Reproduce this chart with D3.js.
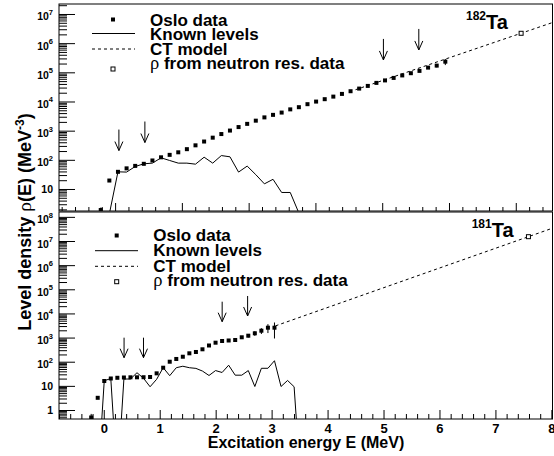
<!DOCTYPE html>
<html>
<head>
<meta charset="utf-8">
<script src="https://cdn.jsdelivr.net/npm/d3@7"></script>
<style>
  body { margin: 0; background: #fff; }
  svg { display: block; font-family: "Liberation Sans", Arial, sans-serif; }
</style>
</head>
<body>
<div id="container"></div>
<script>
/* DATA */
// 182Ta, top panel
const ta182Energy = [-0.215, -0.086, 0.043, 0.172, 0.301, 0.430, 0.559, 0.688, 0.817, 0.946,
  1.075, 1.204, 1.333, 1.462, 1.591, 1.720, 1.849, 1.978, 2.107, 2.236,
  2.365, 2.494, 2.623, 2.752, 2.881, 3.010, 3.139, 3.268, 3.397, 3.526,
  3.655, 3.784, 3.913, 4.042, 4.171, 4.300, 4.429, 4.558, 4.687, 4.816, 4.945];
const ta182Rho = [1.9, 19.5, 38.8, 51, 62, 73, 95, 122, 148, 181,
  232, 314, 424, 575, 765, 1007, 1328, 1710, 2200, 2850,
  3480, 4170, 5370, 6380, 8090, 9930, 12000, 14700, 18200, 22500,
  27700, 34200, 43400, 52800, 64300, 78300, 93300, 112000, 145000, 170000, 232000];
const ta182Err = [0.4, 0, 0, 0, 0, 0, 0, 0, 0, 0,
  0, 0, 0, 0, 0, 0, 0, 0, 0, 0,
  0, 0, 0, 0, 0, 0, 0, 0, 0, 0,
  0, 0, 0, 0, 0, 0, 0, 0, 12000, 22000, 55000];
const ta182KnownEnergy = [-0.086, 0.043, 0.172, 0.301, 0.430, 0.559, 0.688, 0.817, 0.946,
  1.075, 1.204, 1.333, 1.462, 1.591, 1.720, 1.849, 1.978, 2.107, 2.236,
  2.365, 2.494, 2.623, 2.752];
const ta182Known = [1.4, 38.8, 38, 59, 73, 77, 117, 95, 77,
  77, 71, 123, 77, 140, 127, 38, 61, 31, 15,
  21.5, 7.6, 7.6, 1.5];
const ta182CtEnergy = [3.6, 6.55];
const ta182CtRho = [25300, 5.09e6];
const ta182NeutronEnergy = [6.08];
const ta182NeutronRho = [2.18e6];
const ta182ArrowEnergy = [0.057, 0.446, 4.018, 4.548];
const ta182ArrowRho = [208, 392, 2.66e5, 5.85e5];

// 181Ta, bottom panel
const ta181Energy = [-0.225, -0.108, 0.009, 0.126, 0.243, 0.360, 0.477, 0.594, 0.711, 0.828,
  0.945, 1.062, 1.179, 1.296, 1.413, 1.530, 1.647, 1.764, 1.881, 1.998,
  2.115, 2.232, 2.349, 2.466, 2.583, 2.700, 2.817, 2.934, 3.051];
const ta181Rho = [0.49, 3.2, 15.9, 20.2, 21.6, 22.2, 22.6, 22.6, 22.8, 23.3,
  33, 56.5, 100, 130, 161, 223, 253, 327, 470, 614,
  722, 757, 794, 1028, 1197, 1504, 1927, 2566, 2566];
const ta181Err = [0.2, 0, 0, 0, 0, 0, 0, 0, 0, 0,
  0, 0, 0, 0, 0, 0, 0, 0, 0, 0,
  0, 0, 0, 100, 190, 330, 520, 1030, 1650];
const ta181KnownEnergy = [-0.108, 0.009, 0.126, 0.243, 0.360, 0.477, 0.594, 0.711, 0.828,
  0.945, 1.062, 1.179, 1.296, 1.413, 1.530, 1.647, 1.764, 1.881, 1.998,
  2.115, 2.232, 2.349, 2.466, 2.583, 2.700, 2.817, 2.934, 3.051, 3.168,
  3.285, 3.402, 3.519];
const ta181Known = [0, 16.4, 20, 0, 19.2, 19.2, 35, 20.6, 9.2,
  18.7, 56.5, 26.4, 56.5, 65, 56.5, 53, 41, 26.9, 43,
  35.8, 71.8, 27.7, 27.7, 43, 9.4, 53.4, 53.4, 110, 9.4,
  16.7, 9.2, 0];
const ta181CtEnergy = [3.07, 8.0];
const ta181CtRho = [3060, 3.27e7];
const ta181NeutronEnergy = [7.59];
const ta181NeutronRho = [1.51e7];
const ta181ArrowEnergy = [0.363, 0.71, 2.116, 2.571];
const ta181ArrowRho = [147, 147, 4550, 7830];

// ticks and labels
const yTicks182 = [1e1, 1e2, 1e3, 1e4, 1e5, 1e6, 1e7];
const yTicks181 = [1, 1e1, 1e2, 1e3, 1e4, 1e5, 1e6, 1e7, 1e8];
const legendLabels = ["Oslo data", "Known levels", "CT model", " from neutron res. data"];

/* CONSTANTS */
const width = 554,
  height = 456,
  left = 59,
  right = 552.5,
  zeroFloor = 1e-3; // empty bins go below the axis

const svg = d3.select("#container")
  .append("svg")
  .attr("width", width)
  .attr("height", height);

function supLabel(sel, v) {
  const n = Math.round(Math.log10(v));
  if (n === 0) sel.text("1");
  else if (n === 1) sel.text("10");
  else {
    sel.append("tspan").text("10");
    sel.append("tspan").attr("font-size", 7.5).attr("dy", -5.5).text(n);
  }
}

function drawPanel(p) {
  const x = d3.scaleLinear().domain(p.xDomain).range([left, right]);
  const y = d3.scaleLog().domain(p.yDomain).range([p.bottom, p.top]);
  const g = svg.append("g");

  const clipId = "clip" + p.name;
  svg.append("clipPath").attr("id", clipId)
    .append("rect")
    .attr("x", left).attr("y", p.top)
    .attr("width", right - left).attr("height", p.bottom - p.top);

  // + AXES
  const xMajor = d3.range(Math.ceil(p.xDomain[0]), Math.floor(p.xDomain[1]) + 1);
  const xMinor = d3.range(Math.ceil(p.xDomain[0] * 5), Math.floor(p.xDomain[1] * 5) + 1)
    .map(d => d / 5).filter(d => Math.abs(d - Math.round(d)) > 1e-6);

  g.append("g")
    .attr("transform", `translate(0, ${p.bottom})`)
    .call(d3.axisBottom(x).tickValues(xMinor).tickSize(-p.xMinorLen).tickFormat(""))
    .call(a => a.select(".domain").remove());

  const xAxisG = g.append("g")
    .attr("transform", `translate(0, ${p.bottom})`)
    .call(d3.axisBottom(x).tickValues(xMajor).tickSize(-p.xMajorLen).tickPadding(5)
      .tickFormat(p.xLabels ? d3.format("d") : ""))
    .call(a => a.select(".domain").remove());
  xAxisG.selectAll("text")
    .attr("font-size", 13).attr("font-weight", "bold")
    .attr("font-family", "Liberation Sans, Arial, sans-serif").attr("fill", "#000");

  const decades = d3.range(Math.floor(Math.log10(p.yDomain[0])), Math.ceil(Math.log10(p.yDomain[1])) + 1);
  const yMinor = [];
  decades.forEach(n => d3.range(2, 10).forEach(m => {
    const v = m * Math.pow(10, n);
    if (v >= p.yDomain[0] && v <= p.yDomain[1]) yMinor.push(v);
  }));
  g.append("g")
    .attr("transform", `translate(${left}, 0)`)
    .call(d3.axisLeft(y).tickValues(yMinor).tickSize(-8).tickFormat(""))
    .call(a => a.select(".domain").remove());
  g.append("g")
    .attr("transform", `translate(${left}, 0)`)
    .call(d3.axisLeft(y).tickValues(p.yTicks).tickSize(-16).tickFormat(""))
    .call(a => a.select(".domain").remove());

  g.selectAll(".ylab")
    .data(p.yTicks)
    .join("text")
    .attr("class", "ylab")
    .attr("x", 53)
    .attr("y", d => y(d) + (d >= 100 ? 6.5 : 4))
    .attr("text-anchor", "end")
    .attr("font-size", 10.5)
    .attr("font-weight", "bold")
    .each(function(d) { supLabel(d3.select(this), d); });

  g.selectAll(".tick line").attr("stroke", "#000").attr("stroke-width", 1);

  // frame
  g.append("rect")
    .attr("x", left).attr("y", p.top)
    .attr("width", right - left).attr("height", p.bottom - p.top)
    .attr("fill", "none").attr("stroke", "#000").attr("stroke-width", 1);

  const plot = g.append("g").attr("clip-path", `url(#${clipId})`);
  const fy = v => y(v > 0 ? v : zeroFloor);

  // known levels
  plot.append("path")
    .datum(d3.zip(p.knownE, p.known))
    .attr("fill", "none").attr("stroke", "#000").attr("stroke-width", 1)
    .attr("d", d3.line().x(d => x(d[0])).y(d => fy(d[1])));

  // CT model
  plot.append("path")
    .datum(d3.zip(p.ctE, p.ctRho))
    .attr("fill", "none").attr("stroke", "#000").attr("stroke-width", 1)
    .attr("stroke-dasharray", "3,3")
    .attr("d", d3.line().x(d => x(d[0])).y(d => y(d[1])));

  // Oslo data
  const oslo = d3.zip(p.E, p.rho, p.err);
  plot.selectAll(".err")
    .data(oslo.filter(d => d[2] > 0))
    .join("line")
    .attr("x1", d => x(d[0])).attr("x2", d => x(d[0]))
    .attr("y1", d => y(d[1] + d[2])).attr("y2", d => fy(d[1] - d[2]))
    .attr("stroke", "#000").attr("stroke-width", 1);
  plot.selectAll(".pt")
    .data(oslo)
    .join("rect")
    .attr("x", d => x(d[0]) - 2).attr("y", d => y(d[1]) - 2)
    .attr("width", 4).attr("height", 4)
    .attr("fill", "#000");

  // neutron resonance
  plot.selectAll(".nres")
    .data(d3.zip(p.nE, p.nRho))
    .join("rect")
    .attr("x", d => x(d[0]) - 2).attr("y", d => y(d[1]) - 2)
    .attr("width", 4).attr("height", 4)
    .attr("fill", "#fff").attr("stroke", "#000").attr("stroke-width", 1);

  // arrows
  const arrows = g.selectAll(".arrow")
    .data(d3.zip(p.arrowE, p.arrowRho))
    .join("g")
    .attr("transform", d => `translate(${x(d[0])}, ${y(d[1])})`);
  arrows.append("line")
    .attr("x1", 0).attr("x2", 0).attr("y1", -p.arrowLen).attr("y2", 0)
    .attr("stroke", "#000");
  arrows.append("path")
    .attr("d", "M-4,-9L0,0L4,-9")
    .attr("fill", "none").attr("stroke", "#000");

  // + LEGEND
  const L = p.legend;
  const leg = g.append("g");
  leg.append("rect")
    .attr("x", L.markX - 2).attr("y", L.symY[0] - 2).attr("width", 4).attr("height", 4).attr("fill", "#000");
  leg.append("line")
    .attr("x1", L.lineX[0]).attr("x2", L.lineX[1]).attr("y1", L.symY[1]).attr("y2", L.symY[1])
    .attr("stroke", "#000");
  leg.append("line")
    .attr("x1", L.lineX[0]).attr("x2", L.lineX[1]).attr("y1", L.symY[2]).attr("y2", L.symY[2])
    .attr("stroke", "#000").attr("stroke-dasharray", "3,3");
  leg.append("rect")
    .attr("x", L.markX - 2).attr("y", L.symY[3] - 2).attr("width", 4).attr("height", 4)
    .attr("fill", "#fff").attr("stroke", "#000");

  leg.selectAll(".lt")
    .data(legendLabels)
    .join("text")
    .attr("x", L.textX)
    .attr("y", (d, i) => L.base[i])
    .attr("font-size", 17)
    .attr("font-weight", "bold")
    .each(function(d, i) {
      const t = d3.select(this);
      if (i === 3) {
        t.append("tspan").attr("font-family", "Liberation Serif, serif")
          .attr("font-weight", "normal").attr("font-size", 18.5).text("ρ");
        t.append("tspan").text(d);
      } else t.text(d);
    });

  // isotope
  const iso = g.append("text")
    .attr("x", p.iso.x).attr("y", p.iso.y)
    .attr("font-weight", "bold");
  iso.append("tspan").attr("font-size", 12).attr("dy", -9).text(p.iso.mass);
  iso.append("tspan").attr("font-size", 20).attr("dy", 9).text("Ta");
}

drawPanel({
  name: "top", top: 4, bottom: 211,
  xDomain: [-0.84, 6.55], yDomain: [1.76, 2.2e7],
  xLabels: false, xMajorLen: 8, xMinorLen: 4,
  yTicks: yTicks182,
  E: ta182Energy, rho: ta182Rho, err: ta182Err,
  knownE: ta182KnownEnergy, known: ta182Known,
  ctE: ta182CtEnergy, ctRho: ta182CtRho,
  nE: ta182NeutronEnergy, nRho: ta182NeutronRho,
  arrowE: ta182ArrowEnergy, arrowRho: ta182ArrowRho, arrowLen: 21,
  legend: {markX: 113, lineX: [92, 135], textX: 150,
    symY: [19.5, 33.5, 49, 69], base: [26, 40, 54.5, 68.5]},
  iso: {x: 466, y: 29, mass: "182"}
});

drawPanel({
  name: "bottom", top: 212, bottom: 419,
  xDomain: [-0.8, 8.02], yDomain: [0.424, 1.59e8],
  xLabels: true, xMajorLen: 9, xMinorLen: 5,
  yTicks: yTicks181,
  E: ta181Energy, rho: ta181Rho, err: ta181Err,
  knownE: ta181KnownEnergy, known: ta181Known,
  ctE: ta181CtEnergy, ctRho: ta181CtRho,
  nE: ta181NeutronEnergy, nRho: ta181NeutronRho,
  arrowE: ta181ArrowEnergy, arrowRho: ta181ArrowRho, arrowLen: 20,
  legend: {markX: 116.7, lineX: [95, 138], textX: 153.3,
    symY: [235.5, 250.7, 266.3, 281.7], base: [240.7, 256.2, 271.7, 286]},
  iso: {x: 471.7, y: 236.7, mass: "181"}
});

// + AXIS TITLES
svg.append("text")
  .attr("x", 306).attr("y", 447.5)
  .attr("text-anchor", "middle")
  .attr("font-size", 16).attr("font-weight", "bold")
  .text("Excitation energy E (MeV)");

const yTitle = svg.append("text")
  .attr("transform", "translate(31, 222) rotate(-90)")
  .attr("text-anchor", "middle")
  .attr("font-size", 18).attr("font-weight", "bold");
yTitle.append("tspan").text("Level density ");
yTitle.append("tspan").attr("font-family", "Liberation Serif, serif").attr("font-weight", "normal")
  .attr("font-size", 19.5).text("ρ");
yTitle.append("tspan").text("(E) (MeV");
yTitle.append("tspan").attr("font-size", 12).attr("dy", -7).text("-3");
yTitle.append("tspan").attr("dy", 7).text(")");
</script>
</body>
</html>
